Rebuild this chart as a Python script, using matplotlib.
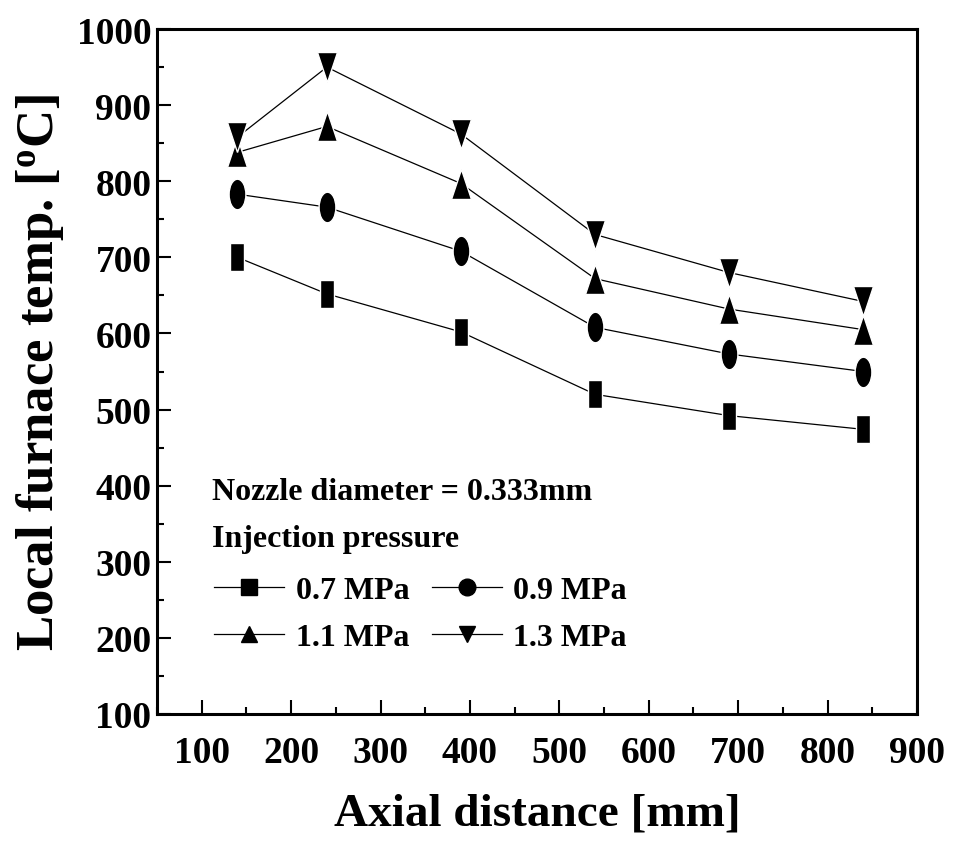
import matplotlib
matplotlib.use("Agg")
import matplotlib.pyplot as plt
from matplotlib.markers import MarkerStyle
from matplotlib.transforms import Affine2D
from matplotlib.lines import Line2D
from matplotlib.ticker import MultipleLocator

plt.rcParams['font.family'] = ['Liberation Serif', 'DejaVu Serif']
plt.rcParams['font.weight'] = 'bold'
plt.rcParams['mathtext.fontset'] = 'custom'
plt.rcParams['mathtext.rm'] = 'Liberation Serif:bold'
plt.rcParams['mathtext.it'] = 'Liberation Serif:bold'
plt.rcParams['mathtext.bf'] = 'Liberation Serif:bold'

x = [140, 240, 390, 540, 690, 840]
p07 = [700, 652, 602, 520, 492, 474]
p09 = [783, 766, 708, 608, 573, 550]
p11 = [838, 872, 797, 672, 632, 605]
p13 = [858, 950, 862, 730, 680, 642]
labels = ['0.7 MPa', '0.9 MPa', '1.1 MPa', '1.3 MPa']
xticks = [100, 200, 300, 400, 500, 600, 700, 800, 900]
yticks = [100, 200, 300, 400, 500, 600, 700, 800, 900, 1000]

fig = plt.figure(figsize=(9.59, 8.53), dpi=100)
ax = fig.add_axes([0.1637, 0.1618, 0.7925, 0.803])

series = [p07, p09, p11, p13]
markers = ['s', 'o', '^', 'v']
scales = [(0.5, 1.0), (0.55, 1.0), (0.64, 1.0), (0.64, 1.0)]
msizes = [20, 22, 22, 22]
for ys, m, sc, ms in zip(series, markers, scales, msizes):
    mk = MarkerStyle(m, transform=Affine2D().scale(*sc))
    ax.plot(x, ys, color='black', lw=0.9, marker=mk, markersize=ms,
            markerfacecolor='black', markeredgecolor='white', markeredgewidth=1.0)

ax.set_xlim(50, 900)
ax.set_ylim(100, 1000)
ax.set_xticks(xticks)
ax.set_yticks(yticks)
ax.xaxis.set_minor_locator(MultipleLocator(50))
ax.yaxis.set_minor_locator(MultipleLocator(50))
ax.tick_params(which='both', direction='in', top=False, right=False, width=1.5)
ax.tick_params(which='major', length=10, labelsize=27)
ax.tick_params(axis='x', which='major', pad=15)
ax.tick_params(axis='y', which='major', pad=4)
ax.tick_params(which='minor', length=5)
for s in ax.spines.values():
    s.set_linewidth(2.2)
for lab in ax.get_xticklabels() + ax.get_yticklabels():
    lab.set_fontweight('bold')

ax.set_xlabel('Axial distance [mm]', fontsize=34, fontweight='bold', labelpad=16)
ax.set_ylabel('Local furnace temp. [$^{\\mathrm{o}}$C]', fontsize=38, fontweight='bold', labelpad=8)

ax.text(0.073, 0.325, 'Nozzle diameter = 0.333mm', transform=ax.transAxes,
        fontsize=23, fontweight='bold', va='center')
ax.text(0.073, 0.256, 'Injection pressure', transform=ax.transAxes,
        fontsize=23, fontweight='bold', va='center')

handles = [Line2D([0], [0], color='black', lw=0.9, marker=m, markersize=12,
                  markerfacecolor='black', markeredgecolor='black') for m in markers]
order = [0, 2, 1, 3]
leg = ax.legend([handles[i] for i in order], [labels[i] for i in order], ncol=2,
                loc='upper left', bbox_to_anchor=(0.05, 0.23), frameon=False,
                prop={'family': 'Liberation Serif', 'weight': 'bold', 'size': 23},
                handlelength=2.2, handletextpad=0.35, columnspacing=0.7,
                labelspacing=0.55, borderpad=0.1)

fig.savefig('out.png', dpi=100)
